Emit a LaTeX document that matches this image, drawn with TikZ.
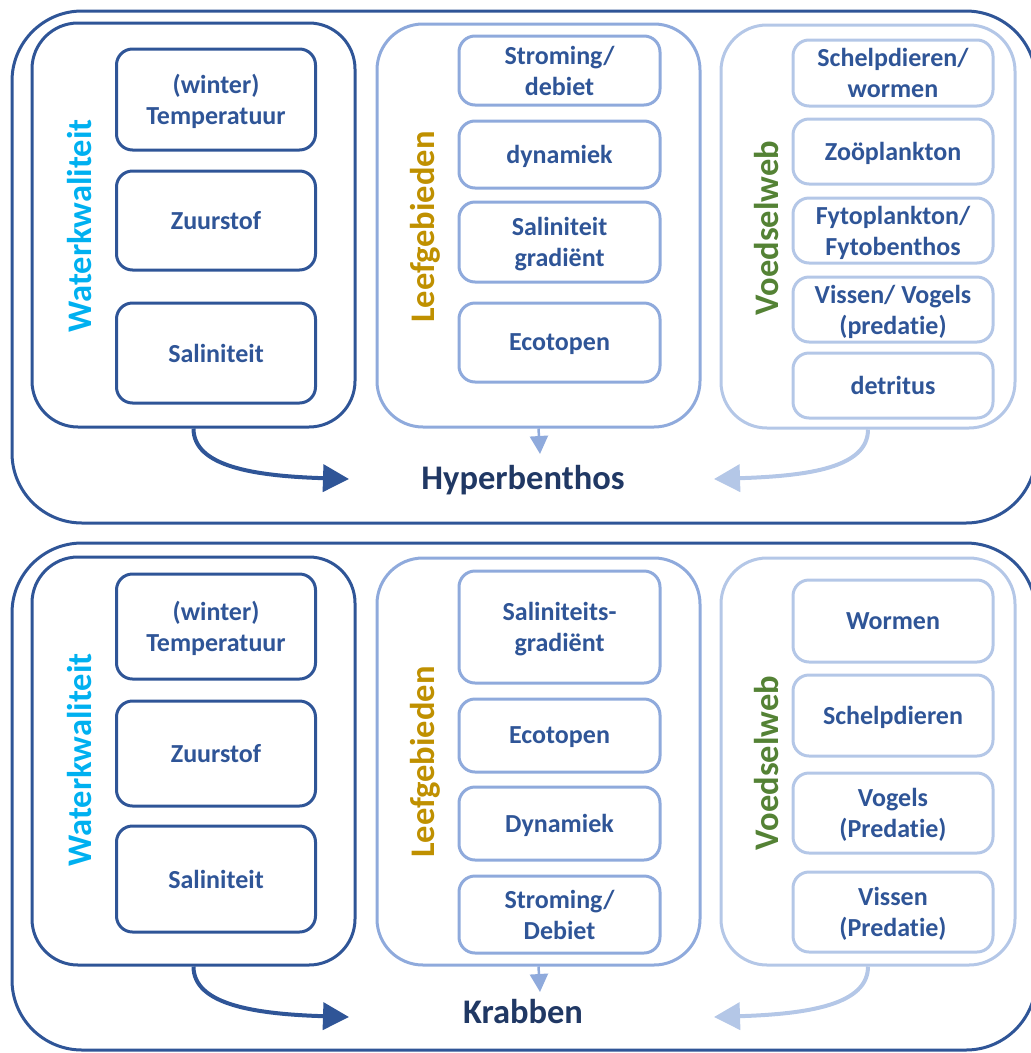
\documentclass[tikz,border=0pt]{standalone}
\usepackage{fontspec}
\setmainfont{Carlito}[Ligatures={NoCommon}]
\usetikzlibrary{arrows.meta}

\definecolor{navy}{HTML}{2F5597}
\definecolor{deepnavy}{HTML}{203864}
\definecolor{midblue}{HTML}{8FAADC}
\definecolor{paleblue}{HTML}{B4C7E7}
\definecolor{cyantext}{HTML}{00B0F0}
\definecolor{goldtext}{HTML}{BF9000}
\definecolor{greentext}{HTML}{548235}

\newcommand{\itemfont}{\fontsize{26}{31}\selectfont\bfseries}
\newcommand{\sidefont}{\fontsize{34.5}{40}\selectfont\bfseries}
\newcommand{\headfont}{\fontsize{34.5}{40}\selectfont\bfseries}

\tikzset{
  panel/.style={draw=navy, line width=3pt, rounded corners=70pt},
  groupbox/.style={rectangle, line width=3pt, rounded corners=46pt, inner sep=0pt},
  itembox/.style={rectangle, line width=3pt, rounded corners=16pt, inner sep=0pt,
    align=center, text=navy, font=\itemfont, text depth=0pt},
  wqitem/.style={itembox, draw=navy, minimum width=199pt},
  lgitem/.style={itembox, draw=midblue, minimum width=201pt},
  vwitem/.style={itembox, draw=paleblue, minimum width=200pt},
  sidelabel/.style={rotate=90, font=\sidefont, inner sep=0pt},
  target/.style={font=\headfont, text=deepnavy, inner sep=0pt},
  darrow/.style={draw=navy, line width=4pt, -{Triangle[length=26pt,width=27pt]}},
  parrow/.style={draw=paleblue, line width=4pt, -{Triangle[length=26pt,width=27pt]}},
  marrow/.style={draw=midblue, line width=2.5pt, -{Triangle[length=18pt,width=18pt]}},
}

\begin{document}
\begin{tikzpicture}[x=1pt, y=-1pt]
  \useasboundingbox (0,0) rectangle (1031,1053);
  \clip (0,0) rectangle (1031,1053);

  % ---------- Hyperbenthos ----------
  \draw[panel] (12,11) rectangle (1036,523);

  \node[groupbox, draw=navy, minimum width=323pt, minimum height=404pt] (wqA) at (193.5,225) {};
  \node[groupbox, draw=midblue, minimum width=323pt, minimum height=403pt] (lgA) at (538.5,225.5) {};
  \node[groupbox, draw=paleblue, minimum width=294pt, minimum height=403pt] (vwA) at (868,226.5) {};

  \node[sidelabel, text=cyantext] (wqAl) at (80,226) {Waterkwaliteit};
  \node[sidelabel, text=goldtext] (lgAl) at (425,227) {Leefgebieden};
  \node[sidelabel, text=greentext] (vwAl) at (767,228) {Voedselweb};

  \node[wqitem, minimum height=101pt] (wqA1) at (216,99.5) {(winter)\\Temperatuur};
  \node[wqitem, minimum height=99pt]  (wqA2) at (216,220.5) {Zuurstof};
  \node[wqitem, minimum height=100pt] (wqA3) at (216,353) {Saliniteit};

  \node[lgitem, minimum height=69pt] (lgA1) at (559.5,70.5) {Stroming/\\debiet};
  \node[lgitem, minimum height=67pt] (lgA2) at (559.5,154.5) {dynamiek};
  \node[lgitem, minimum height=80pt] (lgA3) at (559.5,242) {Saliniteit\\gradiënt};
  \node[lgitem, minimum height=79pt] (lgA4) at (559.5,342.5) {Ecotopen};

  \node[vwitem, minimum height=66pt] (vwA1) at (893,73) {Schelpdieren/\\wormen};
  \node[vwitem, minimum height=65pt] (vwA2) at (893,151.5) {Zoöplankton};
  \node[vwitem, minimum height=65pt] (vwA3) at (893,230.5) {Fytoplankton/\\Fytobenthos};
  \node[vwitem, minimum height=65pt] (vwA4) at (893,309.5) {Vissen/ Vogels\\(predatie)};
  \node[vwitem, minimum height=65pt] (vwA5) at (893,385.5) {detritus};

  \node[target] (hyp) at (523,480) {Hyperbenthos};
  \coordinate (hypL) at (349,479);
  \coordinate (hypR) at (714,479);
  \coordinate (hypT) at (540,454);

  \draw[darrow] (wqA.south) .. controls +(0,38) and +(-95,-3) .. (hypL);
  \draw[parrow] (vwA.south) .. controls +(0,38) and +(95,-3) .. (hypR);
  \draw[marrow] (lgA.south) -- (hypT);

  % ---------- Krabben ----------
  \draw[panel] (12,543) rectangle (1036,1050);

  \node[groupbox, draw=navy, minimum width=323pt, minimum height=408pt] (wqB) at (193.5,761) {};
  \node[groupbox, draw=midblue, minimum width=323pt, minimum height=407pt] (lgB) at (538.5,761.5) {};
  \node[groupbox, draw=paleblue, minimum width=294pt, minimum height=407pt] (vwB) at (868,761.5) {};

  \node[sidelabel, text=cyantext] (wqBl) at (80,760) {Waterkwaliteit};
  \node[sidelabel, text=goldtext] (lgBl) at (425,762) {Leefgebieden};
  \node[sidelabel, text=greentext] (vwBl) at (767,763) {Voedselweb};

  \node[wqitem, minimum height=105pt] (wqB1) at (216,626.5) {(winter)\\Temperatuur};
  \node[wqitem, minimum height=105pt] (wqB2) at (216,753.5) {Zuurstof};
  \node[wqitem, minimum height=106pt] (wqB3) at (216,879) {Saliniteit};

  \node[lgitem, minimum height=112pt] (lgB1) at (559.5,627) {Saliniteits-\\gradiënt};
  \node[lgitem, minimum height=73pt]  (lgB2) at (559.5,735.5) {Ecotopen};
  \node[lgitem, minimum height=73pt]  (lgB3) at (559.5,823.5) {Dynamiek};
  \node[lgitem, minimum height=77pt]  (lgB4) at (559.5,914.5) {Stroming/\\Debiet};

  \node[vwitem, minimum height=82pt] (vwB1) at (893,621) {Wormen};
  \node[vwitem, minimum height=81pt] (vwB2) at (893,715.5) {Schelpdieren};
  \node[vwitem, minimum height=80pt] (vwB3) at (893,813) {Vogels\\(Predatie)};
  \node[vwitem, minimum height=80pt] (vwB4) at (893,912) {Vissen\\(Predatie)};

  \node[target] (krab) at (523,1012) {Krabben};
  \coordinate (krabL) at (349,1017);
  \coordinate (krabR) at (714,1017);
  \coordinate (krabT) at (540,992);

  \draw[darrow] (wqB.south) .. controls +(0,38) and +(-95,-3) .. (krabL);
  \draw[parrow] (vwB.south) .. controls +(0,38) and +(95,-3) .. (krabR);
  \draw[marrow] (lgB.south) -- (krabT);
\end{tikzpicture}
\end{document}
